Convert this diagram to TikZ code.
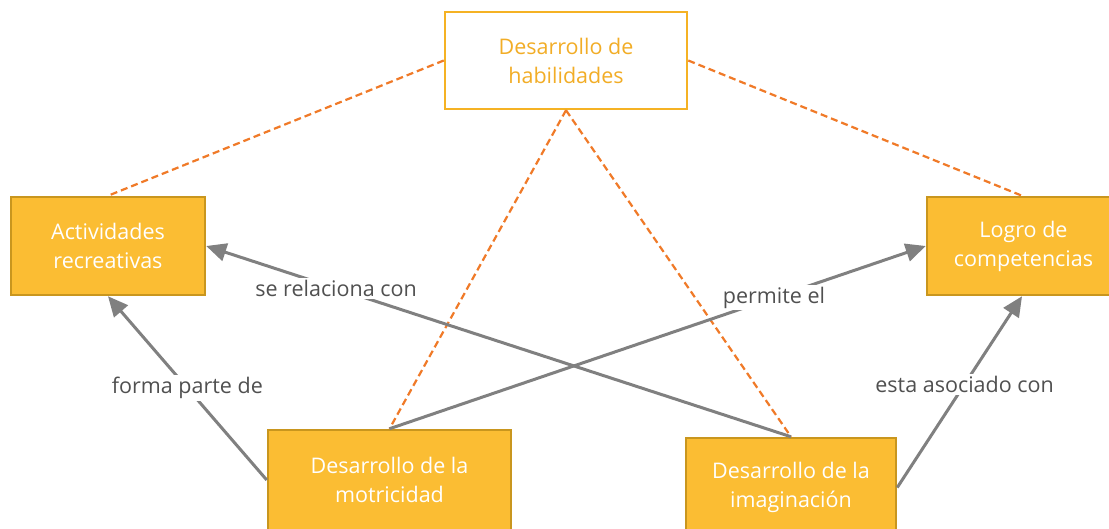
\documentclass[tikz,border=0pt]{standalone}
\usepackage{fontspec}
\setmainfont{Open Sans}
\usetikzlibrary{arrows.meta}
\definecolor{boxfill}{HTML}{FBBD33}
\definecolor{boxdraw}{HTML}{C9961E}
\definecolor{topdraw}{HTML}{F5B224}
\definecolor{toptext}{HTML}{F2AD26}
\definecolor{dashcol}{HTML}{F07A28}
\definecolor{linkcol}{HTML}{808080}
\definecolor{labcol}{HTML}{505050}
\tikzset{
  x=1pt, y=-1pt,
  concept/.style={draw=boxdraw, line width=2.5pt, fill=boxfill, text=white,
    font=\fontsize{21.5}{29}\selectfont, align=center, inner sep=0pt},
  topbox/.style={draw=topdraw, line width=2.5pt, fill=white, text=toptext,
    font=\fontsize{21.5}{29}\selectfont, align=center, inner sep=0pt,
    minimum width=242pt, minimum height=97pt},
  dashlink/.style={draw=dashcol, line width=2.2pt, dash pattern=on 7pt off 4pt},
  link/.style={draw=linkcol, line width=3pt, -{Triangle[length=20pt,width=18pt]}},
  linklabel/.style={fill=white, text=labcol, font=\fontsize{21.5}{26}\selectfont,
    inner sep=2pt}
}
\begin{document}
\begin{tikzpicture}
\clip (0,0) rectangle (1109,528);
\fill[white] (0,0) rectangle (1109,528);
\node[topbox] (hab) at (566,60.5) {Desarrollo de\\habilidades};
\node[concept, minimum width=194pt, minimum height=98pt] (act) at (108,246) {Actividades\\recreativas};
\node[concept, minimum width=190pt, minimum height=98pt] (log) at (1022,246) {\hspace*{3pt}Logro de\\\hspace*{3pt}competencias};
\node[concept, minimum width=243pt, minimum height=100pt] (mot) at (389.5,480) {Desarrollo de la\\motricidad};
\node[concept, minimum width=210pt, minimum height=99pt] (ima) at (791,487.5) {Desarrollo de la\\imaginación};
\draw[dashlink] (hab.west) -- (act.north);
\draw[dashlink] (hab.east) -- (log.north);
\draw[dashlink] (hab.south) -- (mot.north);
\draw[dashlink] (hab.south) -- (ima.north);
\draw[link] (mot.west) -- node[linklabel, pos=0.5] {forma parte de} (act.south);
\draw[link] (ima.north) -- node[linklabel, pos=0.778] {se relaciona con} (act.east);
\draw[link] (mot.north) -- node[linklabel, pos=0.717] {permite el} (log.west);
\draw[link] (ima.east) -- node[linklabel, pos=0.54] {esta asociado con} (log.south);
\end{tikzpicture}
\end{document}
